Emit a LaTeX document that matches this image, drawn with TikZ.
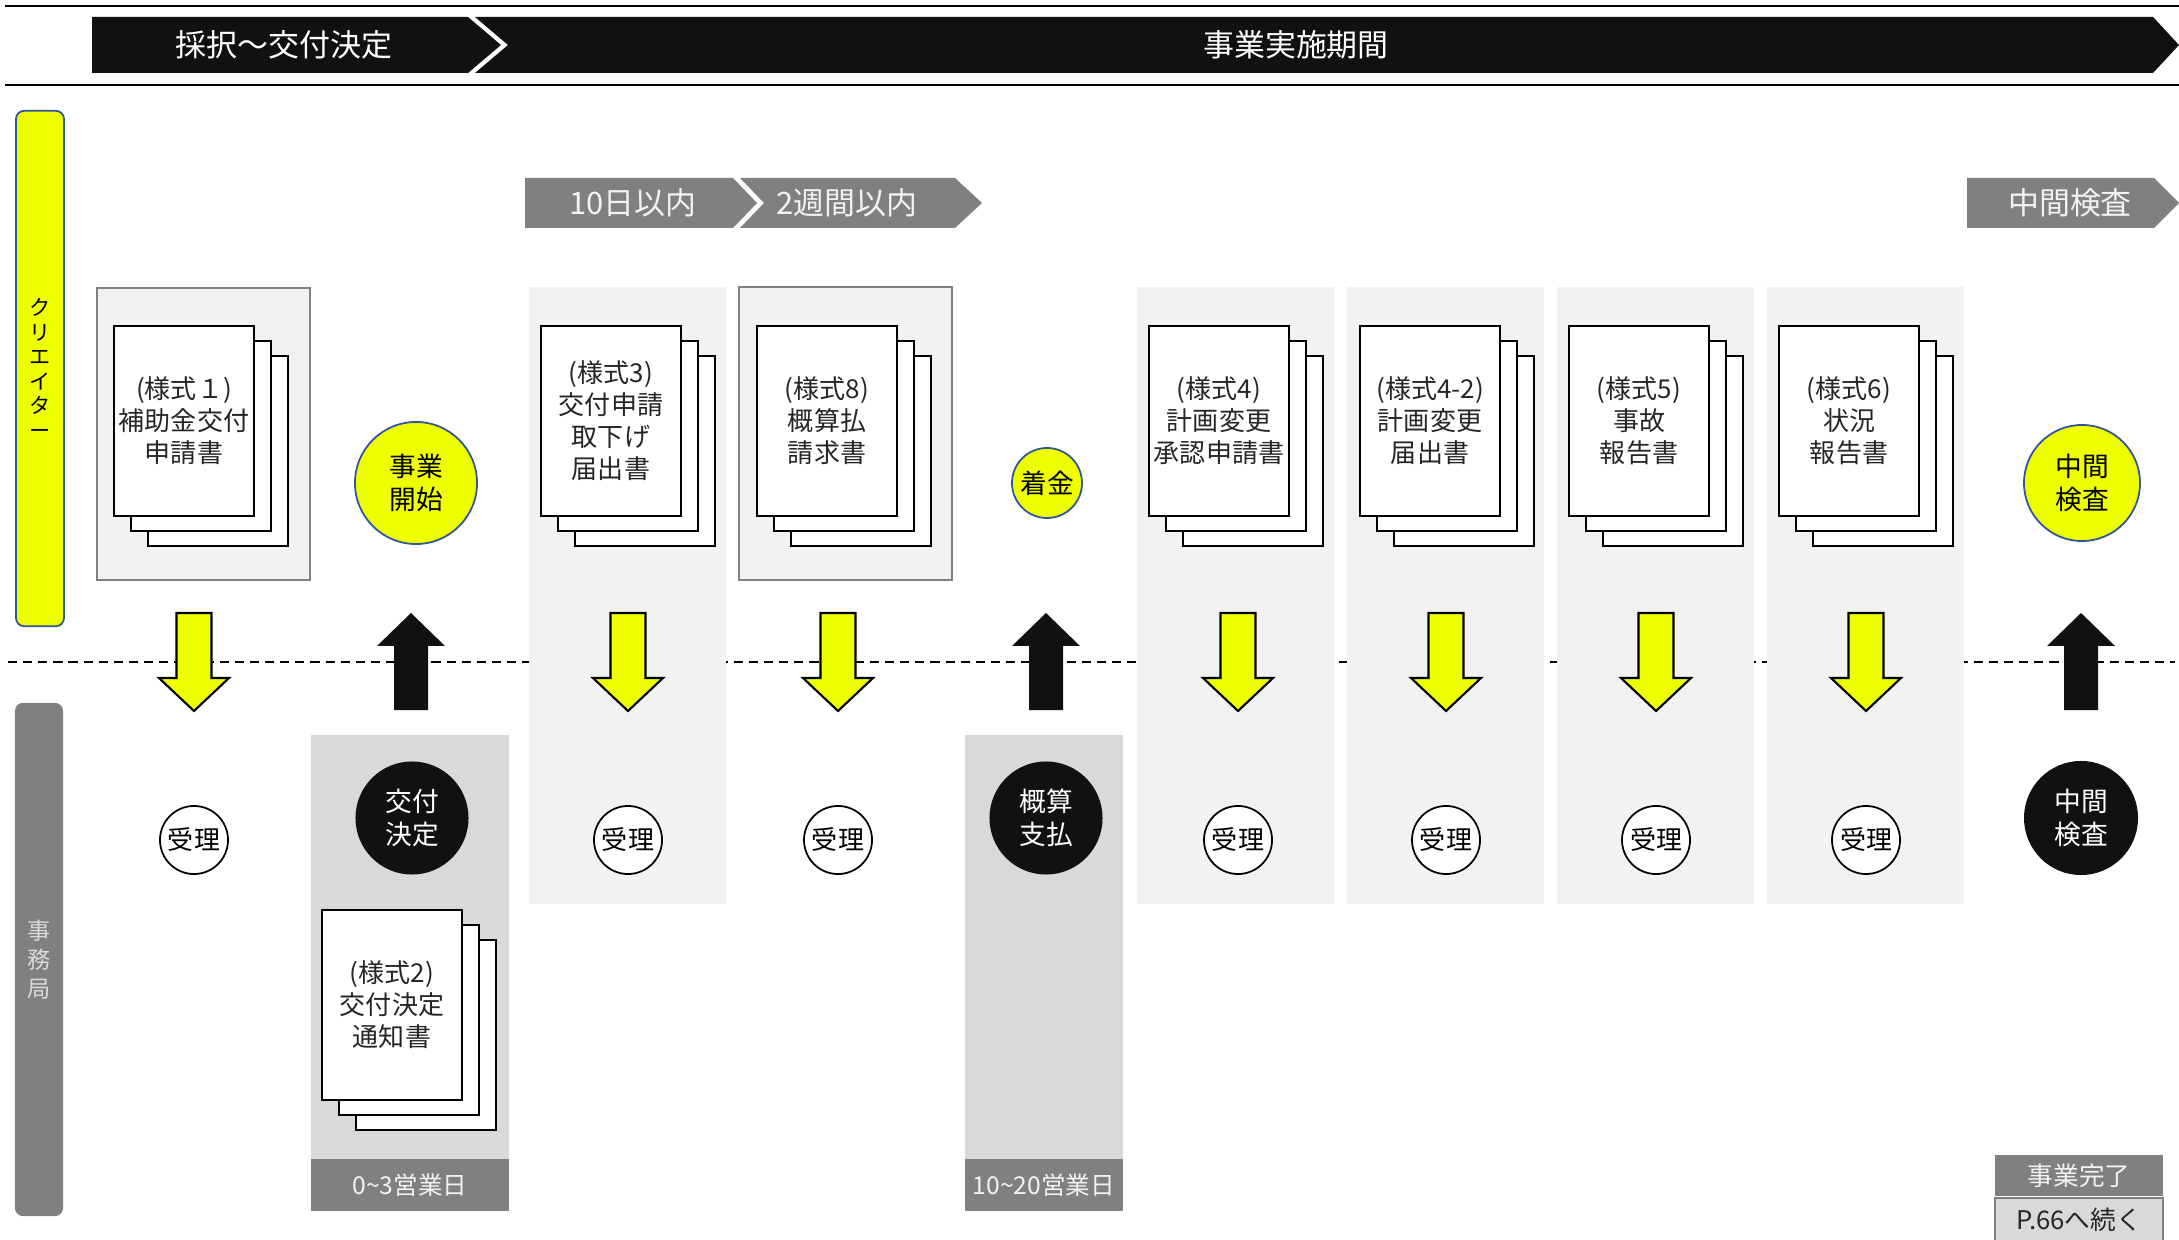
\documentclass[tikz,border=0pt]{standalone}
\usepackage{fontspec}
\setmainfont{Noto Sans CJK JP}
\usetikzlibrary{positioning}

\definecolor{yel}{HTML}{EEFF00}
\definecolor{rimblue}{HTML}{2F5597}
\definecolor{ink}{HTML}{111111}
\definecolor{midgrey}{HTML}{808080}
\definecolor{palegrey}{HTML}{F2F2F2}
\definecolor{lightgrey}{HTML}{D9D9D9}
\definecolor{doctext}{HTML}{262626}

\begin{document}
\begin{tikzpicture}[x=0.01cm,y=-0.01cm,
		sheet/.style = {draw=black,fill=white,line width=0.6pt},
		doc page/.style = {sheet,minimum width=1.4cm,minimum height=1.9cm,inner sep=0pt,
			align=center,text=doctext,font=\fontsize{7.4}{9.1}\selectfont},
		yel circle/.style = {circle,draw=rimblue,fill=yel,line width=0.5pt,inner sep=0pt,
			align=center,font=\fontsize{7.6}{9.4}\selectfont},
		blk circle/.style = {circle,fill=ink,text=white,inner sep=0pt,
			align=center,font=\fontsize{7.6}{9.4}\selectfont},
		receipt/.style = {circle,draw=black,fill=white,line width=0.5pt,inner sep=0pt,
			minimum size=0.68cm,font=\fontsize{7.4}{9}\selectfont},
		lane/.style = {rounded corners=2.3pt,inner sep=0pt,minimum width=0.48cm,
			minimum height=5.15cm,align=center},
		head text/.style = {text=white,font=\fontsize{8.8}{10}\selectfont},
		tag text/.style = {text=palegrey,font=\fontsize{8.8}{10}\selectfont},
		strip/.style = {fill=midgrey,text=palegrey,inner sep=0pt,minimum height=0.52cm,
			font=\fontsize{7}{8}\selectfont},
		yel arrow/.style = {draw=black,fill=yel,line width=0.6pt,line join=miter},
		blk arrow/.style = {fill=ink}]

		\useasboundingbox (0,0) rectangle (2179,1240);

		% header band
		\draw[line width=0.6pt] (5,6) -- (2179,6);
		\draw[line width=0.6pt] (5,85) -- (2179,85);
		\fill[ink] (92,17) -- (468,17) -- (501,45) -- (468,73) -- (92,73) -- cycle;
		\fill[ink] (475,17) -- (2153,17) -- (2179,45) -- (2153,73) -- (475,73) -- (508,45) -- cycle;
		\node[head text] (ph1) at (284,45) {採択～交付決定};
		\node[head text] (ph2) at (1296,45) {事業実施期間};

		% lane boundary
		\draw[line width=0.55pt,dash pattern=on 2.6pt off 1.7pt] (8,662) -- (2175,662);

		% backgrounds
		\foreach \cl in {529,1137,1347,1557,1767}
			\fill[palegrey] (\cl,287) rectangle ++(197,617);
		\draw[midgrey,fill=palegrey,line width=0.6pt] (97,288) rectangle (310,580);
		\draw[midgrey,fill=palegrey,line width=0.6pt] (739,287) rectangle (952,580);
		\fill[lightgrey] (311,735) rectangle (509,1159);
		\fill[lightgrey] (965,735) rectangle (1123,1159);
		\node[strip,minimum width=1.98cm] (days1) at (410,1185) {0\textasciitilde3営業日};
		\node[strip,minimum width=1.58cm] (days2) at (1044,1185) {10\textasciitilde20営業日};

		% deadline tags
		\fill[midgrey] (525,178) -- (733,178) -- (757,203) -- (733,228) -- (525,228) -- cycle;
		\fill[midgrey] (740,178) -- (955,178) -- (982,203) -- (955,228) -- (740,228) -- (764,203) -- cycle;
		\fill[midgrey] (1967,178) -- (2154,178) -- (2179,203) -- (2154,228) -- (1967,228) -- cycle;
		\node[tag text] (tag1) at (633,203) {10日以内};
		\node[tag text] (tag2) at (847,203) {2週間以内};
		\node[tag text] (tag3) at (2070,203) {中間検査};

		% lanes
		\node[lane,fill=yel,draw=rimblue,line width=0.5pt,font=\fontsize{6}{7}\selectfont]
			(creator) at (40,368.5) {ク\\リ\\エ\\イ\\タ\\ー};
		\node[lane,fill=midgrey,text=lightgrey,minimum height=5.13cm,font=\fontsize{6.6}{8.2}\selectfont]
			(office) at (39,959.5) {事\\務\\局};

		% paper stacks
		\foreach \cx/\cy in {184/421,611/421,827/421,1219/421,1430/421,1639/421,1849/421,392/1005} {
			\draw[sheet] (\cx-36,\cy-65) rectangle (\cx+104,\cy+125);
			\draw[sheet] (\cx-53,\cy-80) rectangle (\cx+87,\cy+110);
		}
		\node[doc page] (d1) at (184,421) {(様式１)\\補助金交付\\申請書};
		\node[doc page] (d3) at (611,421) {(様式3)\\交付申請\\取下げ\\届出書};
		\node[doc page] (d8) at (827,421) {(様式8)\\概算払\\請求書};
		\node[doc page] (d4) at (1219,421) {(様式4)\\計画変更\\承認申請書};
		\node[doc page] (d42) at (1430,421) {(様式4-2)\\計画変更\\届出書};
		\node[doc page] (d5) at (1639,421) {(様式5)\\事故\\報告書};
		\node[doc page] (d6) at (1849,421) {(様式6)\\状況\\報告書};
		\node[doc page] (d2) at (392,1005) {(様式2)\\交付決定\\通知書};

		% events
		\node[yel circle,minimum size=1.22cm] (start) at (416,483) {事業\\開始};
		\node[yel circle,minimum size=0.70cm] (funds) at (1047,483) {着金};
		\node[yel circle,minimum size=1.16cm] (midchk) at (2082,483) {中間\\検査};
		\node[blk circle,minimum size=1.13cm] (grant) at (412,818) {交付\\決定};
		\node[blk circle,minimum size=1.13cm] (prepay) at (1046,818) {概算\\支払};
		\node[blk circle,minimum size=1.14cm] (midins) at (2081,818) {中間\\検査};
		\foreach \c [count=\i] in {194,628,838,1238,1446,1656,1866}
			\node[receipt] (r\i) at (\c,840) {受理};

		% block arrows across the lanes
		\foreach \c in {194,628,838,1238,1446,1656,1866}
			\draw[yel arrow] (\c-17.5,613) -- (\c+17.5,613) -- (\c+17.5,678) -- (\c+35,678)
				-- (\c,711) -- (\c-35,678) -- (\c-17.5,678) -- cycle;
		\foreach \c in {411,1046,2081}
			\fill[blk arrow] (\c,613) -- (\c+34,646) -- (\c+17,646) -- (\c+17,710)
				-- (\c-17,710) -- (\c-17,646) -- (\c-34,646) -- cycle;

		% continuation box
		\node[fill=midgrey,text=palegrey,inner sep=0pt,minimum width=1.68cm,minimum height=0.41cm,
			font=\fontsize{7.3}{8}\selectfont] (done) at (2079,1175.5) {事業完了};
		\node[fill=lightgrey,draw=midgrey,line width=0.6pt,text=doctext,inner sep=0pt,
			minimum width=1.68cm,minimum height=0.44cm,font=\fontsize{7.3}{8}\selectfont,
			below=0pt of done] (cont) {P.66へ続く};
\end{tikzpicture}
\end{document}
